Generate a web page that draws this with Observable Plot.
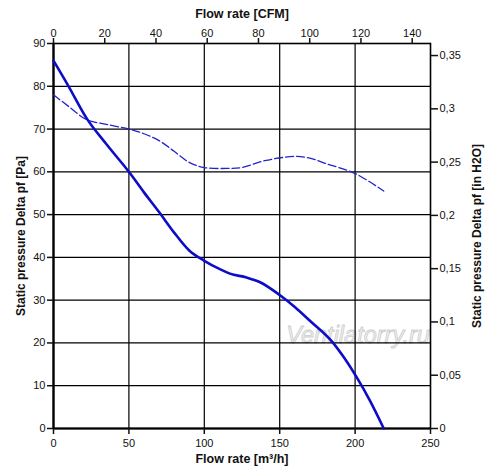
<!DOCTYPE html>
<html><head><meta charset="utf-8">
<script src="https://cdn.jsdelivr.net/npm/d3@7"></script>
<script src="https://cdn.jsdelivr.net/npm/@observablehq/plot@0.6"></script>
<style>body{margin:0;background:#fff}</style>
</head><body><div id="chart"></div>
<script>
// Solid curve: static pressure [Pa] vs flow [m³/h]
const flowSolid = [0,10,22,35,50,60,70,80,90,100,110,117,128,137,150,160,170,185,193,201,210,219];
const pressureSolid = [86,80,72.5,66.5,60,55.2,50.6,45.8,41.6,39.2,37.3,36.2,35.3,34.2,31.2,28.4,25.2,20.2,16.4,12,6.4,0];
// Dashed curve
const flowDashed = [0,10,22,35,50,60,70,80,90,100,115,125,140,160,170,180,200,219];
const valueDashed = [78,75.3,72.2,71.1,70,68.9,67.3,64.8,62.2,61,60.8,61,62.6,63.6,63.2,62,59.6,55.5];
// Axis ticks
const m3hTicks = [0,50,100,150,200,250];
const cfmTicks = [0,20,40,60,80,100,120,140];
const paTicks = [0,10,20,30,40,50,60,70,80,90];
const inTicks = [0,0.05,0.1,0.15,0.2,0.25,0.3,0.35];
const gridXTicks = [50,100,150,200];
const gridYTicks = [10,20,30,40,50,60,70,80];
const PA_PER_INH2O = 249.09;
const M3H_PER_CFM = 1.69901;

const solid = flowSolid.map((f,i)=>({flow:f, p:pressureSolid[i]}));
const dashed = flowDashed.map((f,i)=>({flow:f, p:valueDashed[i]}));

const chart = Plot.plot({
  width: 500, height: 473,
  marginLeft: 53, marginRight: 70, marginTop: 43, marginBottom: 45,
  style: {fontFamily: "'Liberation Sans', Arial, sans-serif", fontSize: "11px", color: "#111", background: "white"},
  x: {domain: [0,250]},
  y: {domain: [0,90]},
  marks: [
    Plot.text(["Ventilatorry.ru"], {frameAnchor:"bottom", dx:116, dy:-93, textAnchor:"middle", lineAnchor:"middle", fontSize:23.5, fontStyle:"italic", fill:"#f0f0f0", stroke:"#cdcdcd", strokeWidth:0.8, paintOrder:"normal"}),
    Plot.gridX(gridXTicks, {stroke:"black", strokeOpacity:1, strokeWidth:1.2}),
    Plot.gridY(gridYTicks, {stroke:"black", strokeOpacity:1, strokeWidth:1.2}),
    Plot.frame({stroke:"black", strokeWidth:1.6}),
    Plot.ruleX([0], {stroke:"black", strokeWidth:2.2}),
    Plot.ruleY([0], {stroke:"black", strokeWidth:2.2}),
    Plot.axisX(m3hTicks, {anchor:"bottom", tickSize:6, tickPadding:5, label:null, strokeWidth:1.5}),
    Plot.axisX(cfmTicks.map(c=>c*M3H_PER_CFM), {anchor:"top", tickSize:6, tickPadding:1, label:null, strokeWidth:1.5, tickFormat: d => String(Math.round(d/M3H_PER_CFM))}),
    Plot.axisY(paTicks, {anchor:"left", tickSize:6, tickPadding:2, label:null, strokeWidth:1.5}),
    Plot.axisY(inTicks.map(v=>v*PA_PER_INH2O), {anchor:"right", tickSize:7, tickPadding:2, label:null, strokeWidth:1.5, tickFormat: d => String(+(d/PA_PER_INH2O).toFixed(2)).replace(".", ",")}),
    Plot.line(dashed, {x:"flow", y:"p", stroke:"#2323cc", strokeWidth:1.3, strokeDasharray:"8,3", curve:"catmull-rom"}),
    Plot.line(solid, {x:"flow", y:"p", stroke:"#0d0dc8", strokeWidth:2.6, curve:"monotone-x"}),
    Plot.text(["Flow rate [CFM]"], {frameAnchor:"top", dy:-30, textAnchor:"middle", lineAnchor:"middle", fontWeight:"bold", fontSize:12.5, fill:"#111"}),
    Plot.text(["Flow rate [m³/h]"], {frameAnchor:"bottom", dy:30, textAnchor:"middle", lineAnchor:"middle", fontWeight:"bold", fontSize:12.5, fill:"#111"}),
    Plot.text(["Static pressure Delta pf [Pa]"], {frameAnchor:"left", dx:-32, rotate:-90, textAnchor:"middle", lineAnchor:"middle", fontWeight:"bold", fontSize:12, fill:"#111"}),
    Plot.text(["Static pressure Delta pf [in H2O]"], {frameAnchor:"right", dx:47, rotate:-90, textAnchor:"middle", lineAnchor:"middle", fontWeight:"bold", fontSize:12, fill:"#111"})
  ]
});
document.getElementById("chart").appendChild(chart);
</script>
</body></html>
